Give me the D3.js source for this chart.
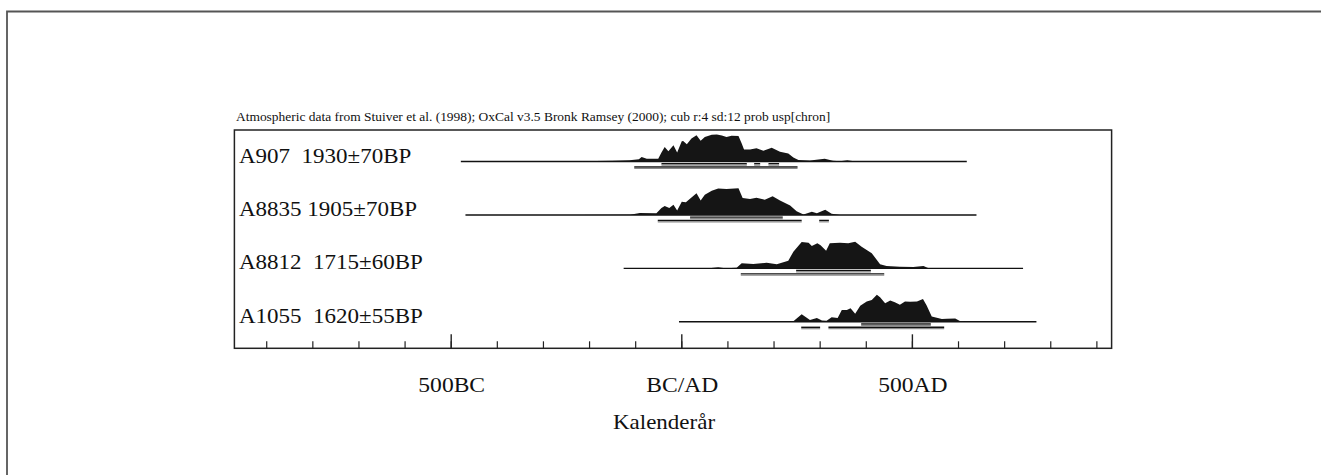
<!DOCTYPE html>
<html>
<head>
<meta charset="utf-8">
<script src="https://cdn.jsdelivr.net/npm/d3@7"></script>
<style>
  body { margin: 0; background: #fff; }
  svg { display: block; }
  text { font-family: "Liberation Serif", "Times New Roman", serif; fill: #111; white-space: pre; }
</style>
</head>
<body>
<svg id="chart" width="1321" height="475"></svg>
<script>
// calibrated dates, one row each
var labels = ["A907  1930\u00b170BP", "A8835 1905\u00b170BP", "A8812  1715\u00b160BP", "A1055  1620\u00b155BP"];

// extent of the plotted baseline, years (BC negative)
var spans = [[-478, 619], [-468, 640], [-125, 741], [-5, 770]];

// probability curves, [year, relative prob]
var prob1 = [[-220,0.01],[-150,0.03],[-112,0.05],[-92,0.08],[-86,0.17],[-75,0.1],[-50,0.1],[-43,0.33],[-36,0.54],[-28,0.38],
  [-17,0.6],[-9,0.33],[1,0.75],[4,0.76],[12,0.64],[22,0.85],[33,0.975],[42,0.77],[51,0.91],[66,0.99],[77,1.0],[88,0.96],
  [98,0.91],[109,0.95],[124,0.94],[131,0.67],[136,0.44],[149,0.44],[163,0.49],[178,0.4],[196,0.51],[214,0.36],[232,0.3],
  [243,0.15],[254,0.06],[279,0.04],[311,0.1],[329,0.03],[344,0.01],[360,0.05],[378,0]];
var prob2 = [[-220,0],[-111,0.01],[-90,0.07],[-54,0.06],[-43,0.26],[-36,0.33],[-26,0.26],[-17,0.38],[-9,0.16],[1,0.49],
  [10,0.47],[22,0.65],[33,0.8],[42,0.53],[51,0.75],[66,0.9],[80,0.975],[98,0.96],[124,0.99],[133,0.63],[149,0.59],
  [163,0.64],[181,0.56],[198,0.69],[214,0.53],[236,0.35],[250,0.14],[265,0.02],[283,0.12],[294,0.06],[312,0.19],[326,0.04],[344,0]];
var prob3 = [[60,0],[80,0.04],[95,0],[120,0.02],[131,0.19],[156,0.16],[185,0.21],[207,0.15],[232,0.28],[243,0.62],
  [261,0.98],[276,0.95],[283,0.83],[295,0.93],[302,0.86],[314,0.65],[322,0.93],[344,0.95],[362,0.93],[377,0.99],
  [391,0.8],[413,0.56],[431,0.15],[445,0.09],[474,0.06],[503,0.05],[525,0.09],[535,0.01],[550,0]];
var prob4 = [[230,0],[243,0.02],[261,0.28],[279,0.07],[294,0.14],[305,0.05],[315,0.04],[326,0.17],[339,0.14],[348,0.44],
  [359,0.44],[367,0.5],[377,0.3],[388,0.59],[402,0.75],[413,0.81],[424,1.0],[431,0.91],[442,0.69],[453,0.79],[463,0.72],
  [474,0.63],[485,0.75],[496,0.74],[511,0.75],[524,0.84],[532,0.6],[543,0.2],[554,0.15],[565,0.1],[576,0.11],[594,0.12],
  [605,0.02],[619,0]];
var probs = [prob1, prob2, prob3, prob4];

// 68.2% and 95.4% ranges
var range68 = [[[-43,142],[158,171],[189,212]], [[19,220]], [[249,411]], [[390,541]]];
var range95 = [[[-102,252]], [[-51,261],[299,320]], [[129,440]], [[260,301],[319,570]]];

var majorTicks = [-500, 0, 500];
var majorLabels = ["500BC", "BC/AD", "500AD"];
var minorTicks = d3.range(-900, 1000, 100);

var header = "Atmospheric data from Stuiver et al. (1998); OxCal v3.5 Bronk Ramsey (2000); cub r:4 sd:12 prob usp[chron]";
var xTitle = "Kalender\u00e5r";

var svg = d3.select("#chart");

// frame around the whole figure (only top/left show)
svg.append("path")
  .attr("d", "M7,480 L7,11.5 L1330,11.5")
  .attr("fill", "none")
  .attr("stroke", "#555")
  .attr("stroke-width", 1.8);

var x = d3.scaleLinear().domain([-500, 500]).range([450.7, 911.9]);
var box = {left: x(-969), right: x(933), top: 130, bottom: 348.3};

var rowY = d3.scalePoint().domain(d3.range(labels.length)).range([161.5, 321.8]);
var h = d3.scaleLinear().domain([0, 1]).range([0, 27]);

// header line
svg.append("text")
  .attr("transform", "translate(236,120.5) scale(1.16,1)")
  .style("font-size", "11.6px")
  .text(header);

svg.append("rect")
  .attr("x", box.left).attr("y", box.top)
  .attr("width", box.right - box.left).attr("height", box.bottom - box.top)
  .attr("fill", "none").attr("stroke", "#222").attr("stroke-width", 1.5);

// ticks point up from the bottom edge
svg.append("g")
  .attr("transform", "translate(0," + box.bottom + ")")
  .call(d3.axisTop(x).tickValues(minorTicks).tickSize(7).tickFormat(""))
  .call(function(g) { g.select(".domain").remove(); })
  .selectAll("line").attr("stroke", "#222").attr("stroke-width", 1.2);

svg.append("g")
  .attr("transform", "translate(0," + box.bottom + ")")
  .call(d3.axisTop(x).tickValues(majorTicks).tickSize(14).tickFormat(""))
  .call(function(g) { g.select(".domain").remove(); })
  .selectAll("line").attr("stroke", "#222").attr("stroke-width", 1.4);

svg.selectAll(".xlab")
  .data(majorTicks)
  .enter().append("text")
  .attr("class", "xlab")
  .attr("transform", function(d) { return "translate(" + (x(d) + 1) + ",392.3) scale(1.15,1)"; })
  .attr("text-anchor", "middle")
  .style("font-size", "20.5px")
  .text(function(d, i) { return majorLabels[i]; });

svg.append("text")
  .attr("transform", "translate(664,429.3) scale(1.15,1)")
  .attr("text-anchor", "middle")
  .style("font-size", "20px")
  .text(xTitle);

var area = d3.area()
  .x(function(d) { return x(d[0]); })
  .y1(function(d) { return -h(d[1]); })
  .y0(0);

var rows = svg.selectAll(".row")
  .data(labels)
  .enter().append("g")
  .attr("class", "row")
  .attr("transform", function(d, i) { return "translate(0," + rowY(i) + ")"; });

rows.append("text")
  .attr("transform", "translate(239,1) scale(1.15,1)")
  .style("font-size", "20px")
  .text(function(d) { return d; });

rows.append("line")
  .attr("x1", function(d, i) { return x(spans[i][0]); })
  .attr("x2", function(d, i) { return x(spans[i][1]); })
  .attr("stroke", "#111").attr("stroke-width", 1.4);

rows.append("path")
  .attr("d", function(d, i) { return area(probs[i]); })
  .attr("fill", "#151515");

function drawRanges(sel, data, dy) {
  sel.each(function(d, i) {
    var g = d3.select(this);
    data[i].forEach(function(r) {
      g.append("line")
        .attr("x1", x(r[0])).attr("x2", x(r[1]))
        .attr("y1", dy).attr("y2", dy)
        .attr("stroke", "#111").attr("stroke-width", 1.4);
      g.append("line")
        .attr("x1", x(r[0])).attr("x2", x(r[1]))
        .attr("y1", dy + 1.4).attr("y2", dy + 1.4)
        .attr("stroke", "#8a8a8a").attr("stroke-width", 1.2);
    });
  });
}
drawRanges(rows, range68, 2.2);
drawRanges(rows, range95, 5.5);
</script>
</body>
</html>
